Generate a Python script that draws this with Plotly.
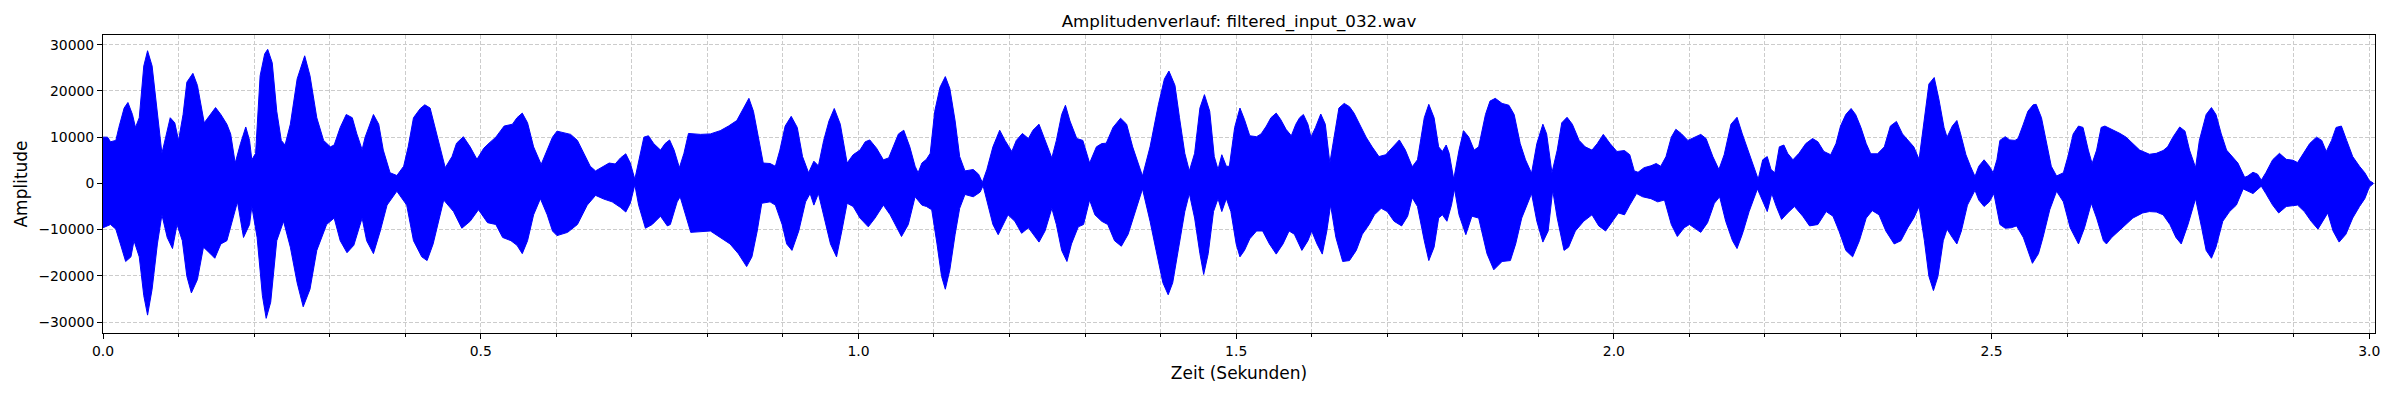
import plotly.graph_objects as go

title = "Amplitudenverlauf: filtered_input_032.wav"

# upper envelope of the signal (time in s, amplitude)
t_upper = [
    0.000, 0.006, 0.010, 0.017, 0.021, 0.028, 0.033, 0.039, 0.043, 0.048,
    0.054, 0.059, 0.065, 0.072, 0.078, 0.083, 0.089, 0.095, 0.100, 0.106,
    0.111, 0.119, 0.125, 0.134, 0.142, 0.149, 0.156, 0.164, 0.169, 0.175,
    0.182, 0.189, 0.194, 0.197, 0.202, 0.208, 0.214, 0.218, 0.224, 0.230,
    0.236, 0.241, 0.248, 0.257, 0.267, 0.274, 0.283, 0.292, 0.301, 0.306,
    0.314, 0.322, 0.330, 0.336, 0.343, 0.347, 0.358, 0.365, 0.371, 0.380,
    0.389, 0.398, 0.404, 0.411, 0.420, 0.426, 0.433, 0.442, 0.453, 0.462,
    0.468, 0.477, 0.486, 0.495,
    0.500, 0.504, 0.511, 0.520, 0.531, 0.542, 0.548, 0.555, 0.562, 0.570,
    0.580, 0.588, 0.595, 0.601, 0.610, 0.619, 0.628, 0.637, 0.645, 0.652,
    0.661, 0.670, 0.678, 0.685, 0.692, 0.698, 0.704, 0.707, 0.716, 0.722,
    0.729, 0.738, 0.744, 0.750, 0.756, 0.763, 0.769, 0.775, 0.791, 0.804,
    0.817, 0.828, 0.839, 0.848, 0.855, 0.861, 0.868, 0.874, 0.883, 0.890,
    0.896, 0.903, 0.911, 0.919, 0.926, 0.934, 0.941, 0.947, 0.954, 0.961,
    0.968, 0.976, 0.985, 0.993,
    1.002, 1.009, 1.015, 1.024, 1.033, 1.040, 1.046, 1.053, 1.060, 1.068,
    1.075, 1.079, 1.084, 1.090, 1.095, 1.101, 1.108, 1.115, 1.121, 1.128,
    1.134, 1.141, 1.152, 1.159, 1.164, 1.170, 1.178, 1.187, 1.194, 1.203,
    1.209, 1.217, 1.225, 1.231, 1.239, 1.247, 1.256, 1.262, 1.269, 1.274,
    1.280, 1.289, 1.297, 1.306, 1.315, 1.322, 1.328, 1.337, 1.347, 1.355,
    1.363, 1.376, 1.386, 1.397, 1.405, 1.411, 1.419, 1.425, 1.432, 1.438,
    1.445, 1.452, 1.458, 1.465, 1.471, 1.476, 1.481, 1.487, 1.491, 1.498,
    1.505, 1.511, 1.518, 1.527, 1.533, 1.540, 1.546, 1.553, 1.559, 1.566,
    1.573, 1.579, 1.584, 1.589, 1.595, 1.599, 1.605, 1.612, 1.618, 1.624,
    1.630, 1.636, 1.643, 1.650, 1.656, 1.663, 1.672, 1.680, 1.689, 1.698,
    1.707, 1.716, 1.724, 1.733, 1.740, 1.749, 1.755, 1.762, 1.768, 1.773,
    1.778, 1.782, 1.788, 1.795, 1.801, 1.808, 1.815, 1.821, 1.830, 1.836,
    1.843, 1.852, 1.861, 1.868, 1.876, 1.883, 1.891, 1.898, 1.906, 1.911,
    1.918, 1.925, 1.931, 1.938, 1.945, 1.954, 1.962, 1.971, 1.978, 1.986,
    1.995, 2.004,
    2.014, 2.021, 2.027, 2.032, 2.040, 2.049, 2.056, 2.062, 2.069, 2.076,
    2.082, 2.089, 2.098, 2.107, 2.115, 2.122, 2.131, 2.139, 2.146, 2.155,
    2.163, 2.170, 2.179, 2.186, 2.191, 2.197, 2.203, 2.208, 2.213, 2.219,
    2.225, 2.230, 2.237, 2.245, 2.254, 2.263, 2.270, 2.278, 2.287, 2.294,
    2.300, 2.307, 2.314, 2.320, 2.327, 2.334, 2.340, 2.349, 2.358, 2.366,
    2.374, 2.382, 2.391, 2.397, 2.404, 2.411, 2.417, 2.424, 2.430, 2.437,
    2.441, 2.448, 2.454, 2.459, 2.466, 2.472, 2.478, 2.483, 2.490, 2.497,
    2.502, 2.507,
    2.511, 2.518, 2.524, 2.531, 2.535, 2.542, 2.548, 2.555, 2.559, 2.566,
    2.573, 2.579, 2.586, 2.595, 2.601, 2.608, 2.615, 2.621, 2.628, 2.633,
    2.639, 2.645, 2.650, 2.659, 2.670, 2.678, 2.687, 2.696, 2.709, 2.718,
    2.727, 2.733, 2.740, 2.749, 2.756, 2.762, 2.770, 2.775, 2.784, 2.791,
    2.797, 2.804, 2.811, 2.819, 2.826, 2.835, 2.839, 2.846, 2.852, 2.857,
    2.863, 2.872, 2.881, 2.890, 2.899, 2.905, 2.912, 2.921, 2.930, 2.937,
    2.943, 2.950, 2.956, 2.963, 2.970, 2.978, 2.987, 2.994, 3.000, 3.005,
]
a_upper = [
    10000, 10000, 9000, 9300, 12100, 16300, 17500, 14900, 12100, 14200,
    25400, 28700, 25400, 15600, 6500, 10000, 14200, 13100, 9300, 14900,
    21900, 23800, 21200, 13100, 14900, 16400, 14900, 12800, 10700, 4400,
    8600, 12200, 9300, 5100, 6500, 23300, 28000, 29000, 26100, 15600,
    9300, 8300, 12800, 22600, 27600, 23300, 14200, 9300, 7900, 8300,
    12100, 14900, 14200, 10700, 7300, 10000, 14900, 12800, 7200, 2300,
    1700, 3700, 7900, 14200, 16200, 17000, 16300, 10700, 3400, 5800,
    8700, 10100, 7900, 5200,
    6500, 7600, 8700, 10000, 12400, 12800, 14200, 15200, 13100, 7900,
    4100, 7200, 10000, 11300, 11000, 10600, 9300, 6500, 3700, 2700,
    3600, 4400, 4200, 5500, 6400, 4400, 900, 3000, 10000, 10300,
    8600, 7200, 8600, 9400, 7200, 3400, 6500, 10800, 10600, 10700,
    11400, 12400, 13600, 16300, 18400, 15600, 10000, 4400, 4300, 3700,
    7200, 12400, 14500, 12100, 5800, 2300, 4800, 3800, 9300, 13500,
    16200, 12800, 4400, 6200,
    7200, 9000, 9400, 7600, 5100, 5500, 7900, 10700, 11500, 7900,
    3700, 2300, 4400, 5200, 6500, 15600, 20800, 23100, 20500, 13500,
    5800, 2700, 3000, 2000, 200, 3000, 7900, 11500, 9300, 6900,
    9300, 10800, 9700, 11500, 12800, 9300, 5500, 9300, 14900, 16900,
    13500, 9700, 9300, 4400, 7900, 8600, 8700, 12100, 14100, 12800,
    7900, 1600, 7900, 17000, 22600, 24300, 21200, 14200, 6500, 2700,
    6500, 16300, 19200, 15600, 5800, 3000, 6200, 3700, 3700, 12100,
    16300, 13800, 10300, 10100, 10700, 12400, 14200, 15200, 13800, 11700,
    10300, 12800, 14200, 14900, 12800, 10000, 12100, 15000, 12800, 4400,
    10700, 16300, 17300, 16600, 15200, 12800, 10000, 7900, 5800, 6200,
    7900, 9400, 7200, 3600, 5100, 14200, 17100, 14200, 7900, 6900,
    8300, 6500, 900, 7200, 11400, 10000, 7200, 7900, 14900, 17800,
    18400, 17300, 16900, 14900, 8600, 5100, 2200, 8600, 12800, 10700,
    2300, 7200, 13100, 14300, 12800, 9300, 7900, 7200, 8600, 10600,
    8600, 6900,
    7100, 6200, 2700, 2400, 3400, 3800, 4300, 3700, 5800, 10000,
    11700, 10800, 9300, 10000, 10600, 9700, 5800, 3000, 6200, 12800,
    14300, 10700, 6500, 3700, 900, 5100, 5800, 3000, 2300, 7900,
    8300, 6500, 5100, 6500, 8600, 9700, 9000, 6900, 6200, 8600,
    12400, 14900, 16200, 14900, 12100, 8600, 6400, 6400, 7900, 12400,
    13400, 10700, 9000, 7900, 5200, 13500, 21500, 22900, 18400, 12100,
    10000, 12400, 13600, 10700, 6200, 3700, 1500, 3700, 5100, 3700,
    2300, 5100,
    9300, 10100, 9400, 9300, 9700, 12800, 15600, 17000, 17100, 14200,
    8600, 3700, 1600, 2300, 5800, 10700, 12400, 12100, 7200, 4300,
    7200, 12100, 12400, 11700, 10800, 10000, 8600, 7200, 6300, 6500,
    7100, 7900, 10000, 12200, 11300, 7200, 3400, 9300, 14900, 16400,
    14900, 10700, 7200, 5700, 4400, 1300, 1600, 2400, 2000, 700,
    2300, 5100, 6500, 5200, 5000, 4500, 6200, 8600, 10000, 9300,
    6900, 9300, 12100, 12400, 9300, 5800, 3700, 2300, 600, 100,
]

# lower envelope of the signal
t_lower = [
    0.000, 0.010, 0.017, 0.023, 0.030, 0.037, 0.041, 0.048, 0.054, 0.059,
    0.065, 0.072, 0.078, 0.085, 0.092, 0.098, 0.105, 0.111, 0.117, 0.125,
    0.133, 0.142, 0.148, 0.156, 0.164, 0.171, 0.178, 0.186, 0.194, 0.197,
    0.204, 0.211, 0.216, 0.222, 0.230, 0.239, 0.248, 0.257, 0.265, 0.274,
    0.283, 0.296, 0.306, 0.314, 0.323, 0.332, 0.343, 0.349, 0.358, 0.367,
    0.376, 0.389, 0.402, 0.411, 0.422, 0.429, 0.437, 0.451, 0.464, 0.475,
    0.486, 0.497,
    0.500, 0.509, 0.520, 0.529, 0.540, 0.548, 0.555, 0.562, 0.570, 0.579,
    0.588, 0.595, 0.601, 0.615, 0.628, 0.641, 0.652, 0.663, 0.674, 0.685,
    0.692, 0.698, 0.704, 0.709, 0.718, 0.727, 0.738, 0.747, 0.751, 0.760,
    0.764, 0.771, 0.778, 0.804, 0.817, 0.830, 0.841, 0.852, 0.859, 0.866,
    0.872, 0.883, 0.890, 0.899, 0.905, 0.912, 0.921, 0.930, 0.936, 0.941,
    0.947, 0.954, 0.963, 0.971, 0.978, 0.985, 0.993,
    1.002, 1.013, 1.022, 1.033, 1.042, 1.051, 1.057, 1.066, 1.075, 1.084,
    1.090, 1.097, 1.104, 1.110, 1.115, 1.121, 1.128, 1.134, 1.141, 1.152,
    1.161, 1.165, 1.172, 1.178, 1.185, 1.192, 1.198, 1.207, 1.216, 1.225,
    1.231, 1.239, 1.247, 1.256, 1.262, 1.269, 1.276, 1.282, 1.291, 1.298,
    1.306, 1.313, 1.322, 1.330, 1.339, 1.348, 1.357, 1.366, 1.376, 1.386,
    1.394, 1.403, 1.410, 1.416, 1.423, 1.432, 1.438, 1.445, 1.452, 1.457,
    1.463, 1.470, 1.476, 1.481, 1.487, 1.493, 1.500,
    1.505, 1.511, 1.518, 1.527, 1.535, 1.544, 1.553, 1.562, 1.570, 1.577,
    1.587, 1.595, 1.600, 1.607, 1.614, 1.620, 1.625, 1.632, 1.641, 1.650,
    1.659, 1.667, 1.676, 1.683, 1.692, 1.700, 1.709, 1.719, 1.727, 1.733,
    1.740, 1.749, 1.755, 1.762, 1.768, 1.773, 1.779, 1.785, 1.789, 1.795,
    1.804, 1.812, 1.821, 1.832, 1.841, 1.852, 1.863, 1.870, 1.878, 1.891,
    1.898, 1.906, 1.913, 1.919, 1.925, 1.934, 1.940, 1.949, 1.960, 1.971,
    1.980, 1.989, 1.998, 2.006,
    2.014, 2.021, 2.030, 2.038, 2.049, 2.058, 2.067, 2.076, 2.084, 2.093,
    2.100, 2.107, 2.115, 2.124, 2.133, 2.140, 2.148, 2.157, 2.163, 2.170,
    2.179, 2.190, 2.197, 2.203, 2.209, 2.215, 2.222, 2.230, 2.239, 2.250,
    2.259, 2.270, 2.281, 2.290, 2.298, 2.307, 2.316, 2.325, 2.334, 2.342,
    2.351, 2.360, 2.371, 2.380, 2.389, 2.397, 2.404, 2.411, 2.417, 2.423,
    2.429, 2.436, 2.441, 2.448, 2.454, 2.460, 2.468, 2.478, 2.483, 2.490,
    2.497, 2.503,
    2.511, 2.518, 2.526, 2.533, 2.542, 2.548, 2.554, 2.562, 2.568, 2.577,
    2.586, 2.595, 2.604, 2.615, 2.623, 2.632, 2.639, 2.648, 2.652, 2.659,
    2.667, 2.678, 2.687, 2.700, 2.709, 2.718, 2.727, 2.736, 2.744, 2.751,
    2.760, 2.770, 2.778, 2.784, 2.791, 2.797, 2.806, 2.815, 2.824, 2.833,
    2.846, 2.857, 2.863, 2.872, 2.880, 2.890, 2.905, 2.914, 2.923, 2.932,
    2.938, 2.945, 2.952, 2.960, 2.969, 2.978, 2.987, 2.994, 3.000, 3.005,
]
a_lower = [
    -9600, -8900, -9900, -13100, -16900, -15900, -12400, -15900, -24300, -28500,
    -22900, -13100, -6800, -11700, -14100, -8900, -12400, -20100, -23700, -20800,
    -13800, -15200, -16200, -13100, -12400, -8200, -4000, -11700, -8900, -5000,
    -11700, -24300, -29200, -25700, -12400, -8200, -13800, -21500, -26700, -22900,
    -14500, -8900, -7500, -12400, -15000, -13400, -7500, -12400, -15200, -10300,
    -4700, -1700, -4700, -12400, -15900, -16700, -13100, -3600, -6100, -9700,
    -8200, -5700,
    -6400, -8500, -8900, -11700, -12400, -13400, -15200, -12400, -6800, -3300,
    -6800, -10300, -11300, -10600, -8900, -4700, -2600, -3400, -4000, -5200,
    -6200, -4300, -300, -4700, -9700, -8900, -7100, -9200, -8900, -4000,
    -2900, -6800, -10600, -10300, -11700, -13100, -15200, -18000, -15900, -10300,
    -4300, -4000, -4700, -8900, -13100, -14500, -10300, -4000, -2200, -4700,
    -2200, -7100, -13100, -15900, -10300, -4300, -5000,
    -7500, -9400, -7500, -4700, -6800, -9600, -11500, -8900, -2900, -4700,
    -5000, -5700, -13100, -20100, -22900, -18700, -11000, -5400, -2400, -2900,
    -1900, -500, -4700, -8900, -11100, -8900, -6800, -8200, -10800, -9600,
    -11000, -12700, -10300, -5400, -8900, -14500, -16900, -13100, -9400, -8900,
    -3600, -6800, -8200, -8900, -12400, -13600, -11000, -6100, -1200, -8200,
    -14500, -21500, -24100, -21500, -15200, -6100, -2200, -7500, -15200, -19700,
    -15200, -6100, -3300, -6100, -3300, -6100, -13100,
    -15900, -14500, -12000, -10300, -10300, -13100, -15300, -13100, -10300, -11000,
    -14500, -12400, -10300, -13100, -15300, -10300, -4700, -11700, -16900, -16700,
    -14500, -11000, -8900, -6800, -5400, -6100, -8200, -9200, -7100, -3100,
    -5000, -12400, -16700, -13800, -7500, -6800, -8200, -4700, -1200, -6800,
    -11100, -7100, -7500, -15200, -18700, -16900, -16700, -13100, -7500, -2200,
    -8200, -12700, -10300, -1500, -7500, -14500, -13800, -10300, -8200, -6800,
    -9200, -10300, -8200, -6400,
    -6800, -4700, -2200, -2900, -3300, -4000, -3600, -8900, -11500, -9600,
    -8900, -9600, -10600, -8500, -4300, -2900, -8200, -12400, -14100, -11000,
    -6100, -1200, -4000, -6100, -2200, -5000, -7800, -6400, -5000, -7100,
    -9200, -8900, -6100, -7100, -10300, -14500, -15900, -12400, -7500, -5900,
    -6800, -10300, -13100, -12400, -9600, -7500, -5000, -12400, -20100, -23200,
    -20100, -12400, -9900, -11700, -13100, -10300, -4700, -1500, -3600, -5000,
    -4000, -2200,
    -8900, -9700, -9600, -9200, -11700, -14500, -17300, -15200, -11700, -5700,
    -1700, -4000, -9600, -13100, -9600, -4300, -7500, -12400, -13100, -11700,
    -10600, -8900, -7500, -6400, -6100, -6200, -6800, -8900, -11700, -13100,
    -8900, -3300, -9600, -14500, -16200, -13800, -8200, -6100, -4700, -1200,
    -2200, -600, -2200, -4700, -6400, -5000, -4700, -6100, -8200, -9900,
    -8200, -6400, -10300, -12700, -11000, -7500, -5000, -3300, -800, -100,
]

x_ticks = [0.0, 0.5, 1.0, 1.5, 2.0, 2.5, 3.0]
x_labels = ["0.0", "0.5", "1.0", "1.5", "2.0", "2.5", "3.0"]
y_ticks = [-30000, -20000, -10000, 0, 10000, 20000, 30000]
y_labels = ["\u221230000", "\u221220000", "\u221210000", "0", "10000", "20000", "30000"]

assert len(t_upper) == len(a_upper)
assert len(t_lower) == len(a_lower)

# closed outline: along the top, back along the bottom
xs = t_upper + t_lower[::-1]
ys = a_upper + a_lower[::-1]

fig = go.Figure()
fig.add_trace(go.Scatter(x=xs, y=ys, mode="lines", fill="toself",
                         fillcolor="#0000ff", line=dict(color="#0000ff", width=1),
                         hoverinfo="skip"))

# the page body has an 8px margin, so the figure is a little smaller
W, H = 2384, 384
grid = "#cccccc"
fig.update_layout(
    width=W, height=H,
    margin=dict(l=93, r=13, t=27, b=50),
    plot_bgcolor="white", paper_bgcolor="white",
    font=dict(family="DejaVu Sans", size=13.9, color="black"),
    showlegend=False,
    title=dict(text=title, x=0.5, xref="paper", xanchor="center",
               y=1 - 13 / H, yref="container", yanchor="middle",
               font=dict(size=16.7)),
)
fig.update_xaxes(
    range=[0, 3.0075], tickvals=x_ticks, ticktext=x_labels,
    ticks="outside", ticklen=5, tickcolor="black",
    showline=True, mirror=True, linecolor="black", linewidth=1,
    showgrid=True, gridcolor=grid, gridwidth=1, griddash="4px,2px",
    zeroline=False,
    minor=dict(dtick=0.1, tick0=0, ticks="outside", ticklen=3, tickcolor="black",
               showgrid=True, gridcolor=grid, gridwidth=1, griddash="4px,2px"),
    title=dict(text="Zeit (Sekunden)", standoff=9),
)
fig.update_yaxes(
    range=[-32370, 32100], tickvals=y_ticks, ticktext=y_labels,
    ticks="outside", ticklen=5, tickcolor="black",
    showline=True, mirror=True, linecolor="black", linewidth=1,
    showgrid=True, gridcolor=grid, gridwidth=1, griddash="4px,2px",
    zeroline=False,
    title=dict(text="Amplitude", standoff=6),
)

fig.write_html("out.html")
